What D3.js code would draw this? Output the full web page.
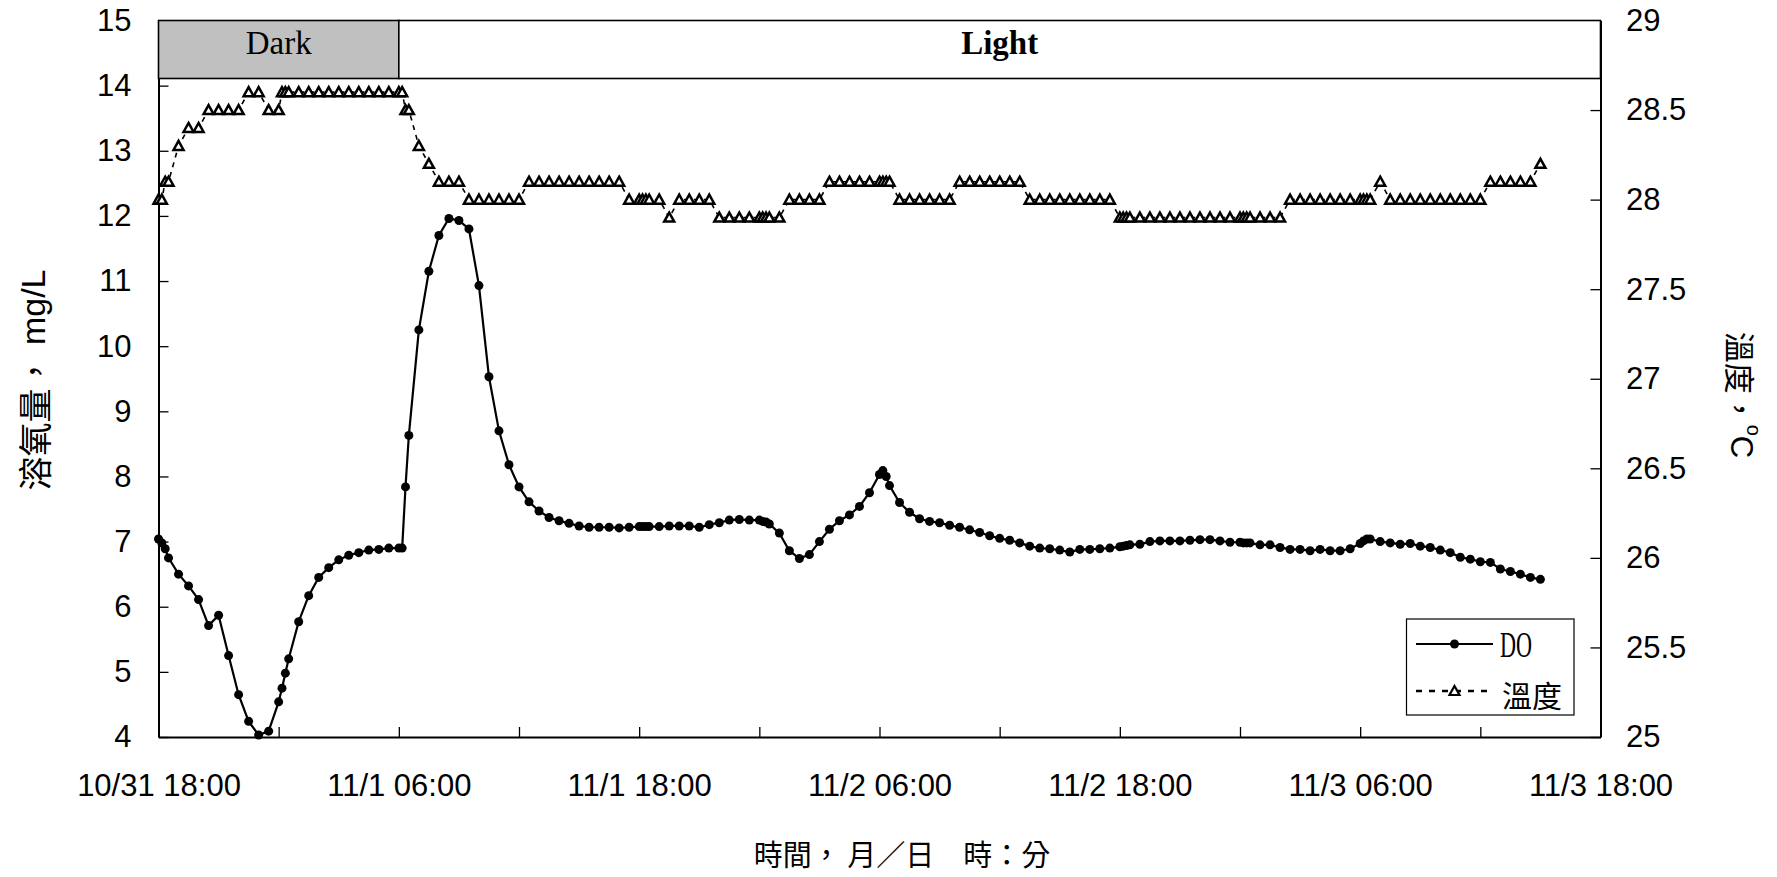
<!DOCTYPE html>
<html>
<head>
<meta charset="utf-8">
<script src="https://cdn.jsdelivr.net/npm/d3@7"></script>
<style>
  body { margin: 0; background: #fff; }
  svg { display: block; }
</style>
</head>
<body>
<script>
// sampling times, month/day hour:minute
var times = [
  "10/31 18:00","10/31 18:10","10/31 18:20","10/31 18:30","10/31 19:00","10/31 19:30","10/31 20:00","10/31 20:30","10/31 21:00","10/31 21:30","10/31 22:00","10/31 22:30","10/31 23:00","10/31 23:30",
  "11/1 00:00","11/1 00:10","11/1 00:20","11/1 00:30","11/1 01:00","11/1 01:30","11/1 02:00","11/1 02:30","11/1 03:00","11/1 03:30","11/1 04:00","11/1 04:30","11/1 05:00","11/1 05:30",
  "11/1 06:00","11/1 06:10","11/1 06:20","11/1 06:30","11/1 07:00","11/1 07:30","11/1 08:00","11/1 08:30","11/1 09:00","11/1 09:30","11/1 10:00","11/1 10:30","11/1 11:00","11/1 11:30",
  "11/1 12:00","11/1 12:30","11/1 13:00","11/1 13:30","11/1 14:00","11/1 14:30","11/1 15:00","11/1 15:30","11/1 16:00","11/1 16:30","11/1 17:00","11/1 17:30",
  "11/1 18:00","11/1 18:10","11/1 18:20","11/1 18:30","11/1 19:00","11/1 19:30","11/1 20:00","11/1 20:30","11/1 21:00","11/1 21:30","11/1 22:00","11/1 22:30","11/1 23:00","11/1 23:30",
  "11/2 00:00","11/2 00:10","11/2 00:20","11/2 00:30","11/2 01:00","11/2 01:30","11/2 02:00","11/2 02:30","11/2 03:00","11/2 03:30","11/2 04:00","11/2 04:30","11/2 05:00","11/2 05:30",
  "11/2 06:00","11/2 06:10","11/2 06:20","11/2 06:30","11/2 07:00","11/2 07:30","11/2 08:00","11/2 08:30","11/2 09:00","11/2 09:30","11/2 10:00","11/2 10:30","11/2 11:00","11/2 11:30",
  "11/2 12:00","11/2 12:30","11/2 13:00","11/2 13:30","11/2 14:00","11/2 14:30","11/2 15:00","11/2 15:30","11/2 16:00","11/2 16:30","11/2 17:00","11/2 17:30",
  "11/2 18:00","11/2 18:10","11/2 18:20","11/2 18:30","11/2 19:00","11/2 19:30","11/2 20:00","11/2 20:30","11/2 21:00","11/2 21:30","11/2 22:00","11/2 22:30","11/2 23:00","11/2 23:30",
  "11/3 00:00","11/3 00:10","11/3 00:20","11/3 00:30","11/3 01:00","11/3 01:30","11/3 02:00","11/3 02:30","11/3 03:00","11/3 03:30","11/3 04:00","11/3 04:30","11/3 05:00","11/3 05:30",
  "11/3 06:00","11/3 06:10","11/3 06:20","11/3 06:30","11/3 07:00","11/3 07:30","11/3 08:00","11/3 08:30","11/3 09:00","11/3 09:30","11/3 10:00","11/3 10:30","11/3 11:00","11/3 11:30",
  "11/3 12:00","11/3 12:30","11/3 13:00","11/3 13:30","11/3 14:00","11/3 14:30","11/3 15:00"
];

// dissolved oxygen, mg/L
var doValues = [
  7.04,6.98,6.89,6.75,6.50,6.32,6.11,5.71,5.87,5.25,4.65,4.24,4.03,4.09,
  4.54,4.75,4.98,5.20,5.77,6.17,6.45,6.60,6.72,6.79,6.83,6.87,6.88,6.90,
  6.90,6.90,7.84,8.63,10.25,11.15,11.70,11.96,11.93,11.80,10.93,9.53,8.70,8.18,
  7.84,7.61,7.47,7.37,7.32,7.28,7.24,7.22,7.22,7.22,7.21,7.22,
  7.23,7.23,7.23,7.23,7.23,7.24,7.24,7.24,7.22,7.26,7.29,7.33,7.34,7.33,
  7.33,7.31,7.30,7.27,7.13,6.86,6.74,6.80,7.00,7.19,7.32,7.41,7.54,7.75,
  8.03,8.09,8.00,7.86,7.60,7.45,7.35,7.31,7.29,7.25,7.22,7.18,7.14,7.09,
  7.05,7.02,6.98,6.93,6.90,6.89,6.87,6.84,6.88,6.88,6.89,6.90,
  6.92,6.93,6.94,6.95,6.96,7.00,7.01,7.01,7.01,7.02,7.03,7.03,7.01,6.99,
  6.99,6.98,6.98,6.98,6.95,6.95,6.91,6.88,6.88,6.86,6.88,6.86,6.86,6.89,
  6.97,7.01,7.04,7.04,7.00,6.98,6.96,6.97,6.93,6.91,6.87,6.83,6.76,6.73,
  6.69,6.68,6.58,6.54,6.50,6.45,6.42
];

// water temperature, deg C
var tempValues = [
  28.0,28.0,28.1,28.1,28.3,28.4,28.4,28.5,28.5,28.5,28.5,28.6,28.6,28.5,
  28.5,28.6,28.6,28.6,28.6,28.6,28.6,28.6,28.6,28.6,28.6,28.6,28.6,28.6,
  28.6,28.6,28.5,28.5,28.3,28.2,28.1,28.1,28.1,28.0,28.0,28.0,28.0,28.0,
  28.0,28.1,28.1,28.1,28.1,28.1,28.1,28.1,28.1,28.1,28.1,28.0,
  28.0,28.0,28.0,28.0,28.0,27.9,28.0,28.0,28.0,28.0,27.9,27.9,27.9,27.9,
  27.9,27.9,27.9,27.9,27.9,28.0,28.0,28.0,28.0,28.1,28.1,28.1,28.1,28.1,
  28.1,28.1,28.1,28.1,28.0,28.0,28.0,28.0,28.0,28.0,28.1,28.1,28.1,28.1,
  28.1,28.1,28.1,28.0,28.0,28.0,28.0,28.0,28.0,28.0,28.0,28.0,
  27.9,27.9,27.9,27.9,27.9,27.9,27.9,27.9,27.9,27.9,27.9,27.9,27.9,27.9,
  27.9,27.9,27.9,27.9,27.9,27.9,27.9,28.0,28.0,28.0,28.0,28.0,28.0,28.0,
  28.0,28.0,28.0,28.0,28.1,28.0,28.0,28.0,28.0,28.0,28.0,28.0,28.0,28.0,
  28.0,28.1,28.1,28.1,28.1,28.1,28.2
];

var xTickLabels = ["10/31 18:00","11/1 06:00","11/1 18:00","11/2 06:00","11/2 18:00","11/3 06:00","11/3 18:00"];
var leftTicks = [4,5,6,7,8,9,10,11,12,13,14,15];
var rightTicks = [25,25.5,26,26.5,27,27.5,28,28.5,29];

// dark / light band across the top
var periodLabels = ["Dark","Light"];
var periodBounds = ["10/31 18:00","11/1 06:00","11/3 18:00"];

var seriesNames = ["DO","溫度"];

var width = 1777,
    height = 877;

var plotLeft = 158.5, plotRight = 1600.5, plotTop = 20.5, plotBottom = 737;

var parseTime = d3.timeParse("%m/%d %H:%M");
var formatTime = d3.timeFormat("%-m/%-d %H:%M");

var svg = d3.select("body")
    .append("svg")
    .attr("width", width)
    .attr("height", height);

var x = d3.scaleTime()
    .domain([parseTime(xTickLabels[0]), parseTime(xTickLabels[xTickLabels.length - 1])])
    .range([plotLeft, plotRight]);

var yDO = d3.scaleLinear()
    .domain([leftTicks[0], leftTicks[leftTicks.length - 1]])
    .range([plotBottom, plotTop]);

var yTemp = d3.scaleLinear()
    .domain([rightTicks[0], rightTicks[rightTicks.length - 1]])
    .range([plotBottom, plotTop]);

var data = times.map(function(t, i){
    return {time: parseTime(t), dO: doValues[i], temp: tempValues[i]};
});

var tickFont = "'Liberation Sans', Arial, sans-serif";
var cjkFont = "'Noto Sans CJK TC', 'Noto Sans CJK SC', sans-serif";
var serifFont = "'Liberation Serif', 'Times New Roman', serif";

//x axis: a tick every 6 hours, a label every 12
var labelSet = new Set(xTickLabels);
var xAxis = d3.axisBottom(x)
    .tickValues(d3.timeHour.every(6).range(x.domain()[0], d3.timeMinute.offset(x.domain()[1], 1)))
    .tickSizeInner(-10)
    .tickSizeOuter(0)
    .tickPadding(37)
    .tickFormat(function(d){
        var s = formatTime(d);
        return labelSet.has(s) ? s : "";
    });

var gx = svg.append("g")
    .attr("class", "x axis")
    .attr("transform", "translate(0," + plotBottom + ")")
    .call(xAxis);

var gl = svg.append("g")
    .attr("class", "y axis")
    .attr("transform", "translate(" + plotLeft + ",0)")
    .call(d3.axisLeft(yDO).tickValues(leftTicks).tickSizeInner(-10).tickSizeOuter(0).tickPadding(27));

var gr = svg.append("g")
    .attr("class", "y2 axis")
    .attr("transform", "translate(" + plotRight + ",0)")
    .call(d3.axisRight(yTemp).tickValues(rightTicks).tickSizeInner(-10).tickSizeOuter(0).tickPadding(25.5)
        .tickFormat(d3.format("")));

[gx, gl, gr].forEach(function(g){
    g.attr("font-family", tickFont).attr("font-size", 31);
    g.selectAll("text").attr("fill", "#000");
    g.selectAll("line").attr("stroke", "#000").attr("stroke-width", 1.3);
    g.select(".domain").attr("stroke", "#000").attr("stroke-width", 2);
});

//temperature: dashed line with open triangles
var tempLine = d3.line()
    .x(function(d){ return x(d.time); })
    .y(function(d){ return yTemp(d.temp); });

svg.append("path")
    .datum(data)
    .attr("class", "tempLine")
    .attr("d", tempLine)
    .attr("fill", "none")
    .attr("stroke", "#000")
    .attr("stroke-width", 1.6)
    .attr("stroke-dasharray", "5,5");

var triangle = "M0,-5L5,4L-5,4Z";

svg.selectAll(".tempMark")
    .data(data)
    .enter()
    .append("path")
    .attr("class", "tempMark")
    .attr("d", triangle)
    .attr("transform", function(d){ return "translate(" + x(d.time) + "," + yTemp(d.temp) + ")"; })
    .attr("fill", "#fff")
    .attr("stroke", "#000")
    .attr("stroke-width", 2.5);

//dissolved oxygen: solid line with filled dots
var doLine = d3.line()
    .x(function(d){ return x(d.time); })
    .y(function(d){ return yDO(d.dO); });

svg.append("path")
    .datum(data)
    .attr("class", "doLine")
    .attr("d", doLine)
    .attr("fill", "none")
    .attr("stroke", "#000")
    .attr("stroke-width", 2.2);

svg.selectAll(".doMark")
    .data(data)
    .enter()
    .append("circle")
    .attr("class", "doMark")
    .attr("cx", function(d){ return x(d.time); })
    .attr("cy", function(d){ return yDO(d.dO); })
    .attr("r", 4.5)
    .attr("fill", "#000");

//dark / light band
var bandBottom = 78.5;
var band = svg.selectAll(".band")
    .data(periodLabels)
    .enter()
    .append("g")
    .attr("class", "band");

band.append("rect")
    .attr("x", function(d, i){ return x(parseTime(periodBounds[i])); })
    .attr("y", plotTop)
    .attr("width", function(d, i){ return x(parseTime(periodBounds[i + 1])) - x(parseTime(periodBounds[i])); })
    .attr("height", bandBottom - plotTop)
    .attr("fill", function(d, i){ return i == 0 ? "#c0c0c0" : "#fff"; })
    .attr("stroke", "#000")
    .attr("stroke-width", 1.6);

band.append("text")
    .attr("x", function(d, i){ return (x(parseTime(periodBounds[i])) + x(parseTime(periodBounds[i + 1]))) / 2; })
    .attr("y", 54)
    .attr("text-anchor", "middle")
    .attr("font-family", serifFont)
    .attr("font-size", 33)
    .attr("font-weight", function(d, i){ return i == 0 ? "normal" : "bold"; })
    .text(function(d){ return d; });

//axis titles
svg.append("text")
    .attr("transform", "translate(33,380) rotate(-90)")
    .attr("text-anchor", "middle")
    .attr("dominant-baseline", "central")
    .attr("font-size", 34)
    .attr("font-family", cjkFont)
    .call(function(t){
        t.append("tspan").text("溶氧量，");
        t.append("tspan").attr("font-family", tickFont).text(" mg/L");
    });

svg.append("text")
    .attr("transform", "translate(1742,395) rotate(90)")
    .attr("text-anchor", "middle")
    .attr("dominant-baseline", "central")
    .attr("font-size", 31)
    .attr("font-family", cjkFont)
    .call(function(t){
        t.append("tspan").text("溫度，");
        t.append("tspan").attr("font-family", tickFont).attr("font-size", 20).attr("dy", -12).text("o");
        t.append("tspan").attr("font-family", tickFont).attr("dy", 12).text("C");
    });

svg.append("text")
    .attr("x", 902)
    .attr("y", 853)
    .attr("text-anchor", "middle")
    .attr("dominant-baseline", "central")
    .attr("font-size", 29)
    .attr("font-family", cjkFont)
    .style("white-space", "pre")
    .text("時間， 月／日　時：分");

//legend
var legend = svg.append("g").attr("class", "legend");
legend.append("rect")
    .attr("x", 1406.5).attr("y", 619)
    .attr("width", 167.5).attr("height", 96)
    .attr("fill", "#fff")
    .attr("stroke", "#000")
    .attr("stroke-width", 1.2);

var rowY = [644, 691];
legend.append("line")
    .attr("x1", 1416).attr("x2", 1493)
    .attr("y1", rowY[0]).attr("y2", rowY[0])
    .attr("stroke", "#000").attr("stroke-width", 2.2);
legend.append("circle")
    .attr("cx", 1454.5).attr("cy", rowY[0]).attr("r", 4.5)
    .attr("fill", "#000");
legend.append("text")
    .attr("x", 1500).attr("y", 657)
    .attr("font-family", serifFont)
    .attr("font-size", 35)
    .attr("textLength", 32)
    .attr("lengthAdjust", "spacingAndGlyphs")
    .text(seriesNames[0]);

legend.append("line")
    .attr("x1", 1416).attr("x2", 1493)
    .attr("y1", rowY[1]).attr("y2", rowY[1])
    .attr("stroke", "#000").attr("stroke-width", 2.4)
    .attr("stroke-dasharray", "6,7");
legend.append("path")
    .attr("d", triangle)
    .attr("transform", "translate(1454.5," + rowY[1] + ")")
    .attr("fill", "#fff")
    .attr("stroke", "#000")
    .attr("stroke-width", 2.2);
legend.append("text")
    .attr("x", 1502).attr("y", 694)
    .attr("dominant-baseline", "central")
    .attr("font-family", cjkFont)
    .attr("font-size", 30)
    .text(seriesNames[1]);
</script>
</body>
</html>
